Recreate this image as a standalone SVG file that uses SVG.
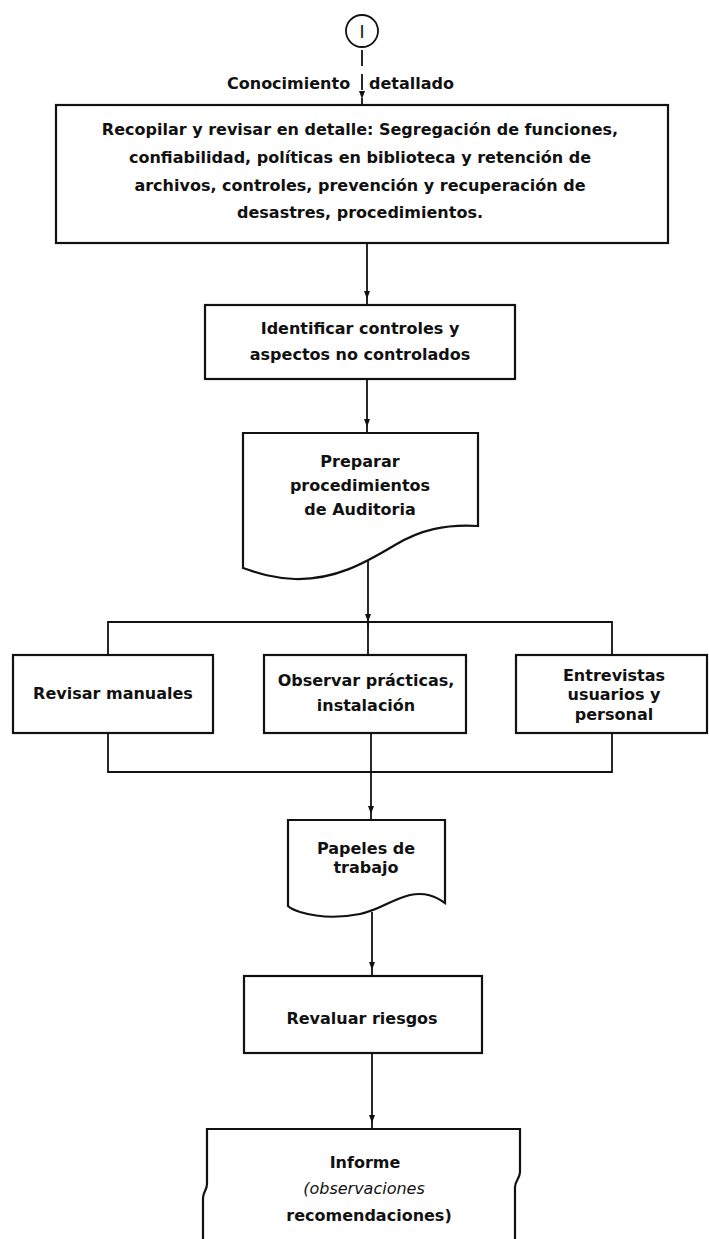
<svg xmlns="http://www.w3.org/2000/svg" width="709" height="1239" viewBox="0 0 709 1239">
<defs>
<marker id="arr" viewBox="0 0 14 6" refX="14" refY="3" markerWidth="14" markerHeight="6" markerUnits="userSpaceOnUse" orient="auto">
<path d="M0,0 L8,3 L0,6 z" fill="#111"/>
</marker>
</defs>
<style>
.box{fill:#fff;stroke:#111;stroke-width:2.2}
.ln{fill:none;stroke:#111;stroke-width:1.8}
.t{font-family:"DejaVu Sans","Liberation Sans",sans-serif;font-weight:bold;font-size:16px;fill:#111;text-anchor:middle}
.ti{font-style:italic;font-weight:normal}
</style>
<rect width="709" height="1239" fill="#fff"/>
<g id="connectors">
<line class="ln" x1="362" y1="50" x2="362" y2="105" stroke-dasharray="16 8" marker-end="url(#arr)"/>
<line class="ln" x1="367" y1="243" x2="367" y2="305" marker-end="url(#arr)"/>
<line class="ln" x1="367" y1="379" x2="367" y2="433" marker-end="url(#arr)"/>
<line class="ln" x1="368" y1="560" x2="368" y2="628" marker-end="url(#arr)"/>
<line class="ln" x1="368" y1="622" x2="368" y2="655"/>
<polyline class="ln" points="108,655 108,622 612,622 612,655"/>
<polyline class="ln" points="108,733 108,772 612,772 612,733"/>
<line class="ln" x1="371" y1="733" x2="371" y2="820" marker-end="url(#arr)"/>
<line class="ln" x1="372" y1="912" x2="372" y2="976" marker-end="url(#arr)"/>
<line class="ln" x1="372" y1="1053" x2="372" y2="1129" marker-end="url(#arr)"/>
</g>
<g id="start">
<circle cx="362" cy="31" r="16" fill="#fff" stroke="#111" stroke-width="1.8"/>
<text x="362" y="38" font-family="DejaVu Sans,sans-serif" font-size="17" text-anchor="middle" fill="#111">I</text>
<text class="t" y="89" style="text-anchor:start"><tspan x="227">Conocimiento</tspan><tspan x="369">detallado</tspan></text>
</g>
<g id="recopilar">
<rect class="box" x="56" y="105" width="612" height="138"/>
<text class="t" x="360" y="135">Recopilar y revisar en detalle: Segregación de funciones,</text>
<text class="t" x="360" y="163">confiabilidad, políticas en biblioteca y retención de</text>
<text class="t" x="360" y="191">archivos, controles, prevención y recuperación de</text>
<text class="t" x="360" y="218">desastres, procedimientos.</text>
</g>
<g id="identificar">
<rect class="box" x="205" y="305" width="310" height="74"/>
<text class="t" x="360" y="334">Identificar controles y</text>
<text class="t" x="360" y="360">aspectos no controlados</text>
</g>
<g id="preparar">
<path class="box" d="M243,433 H478 V526 C445,524 420,530 395,545 C365,563 335,580 295,579 C270,578 255,572 243,568 Z"/>
<text class="t" x="360" y="467">Preparar</text>
<text class="t" x="360" y="491">procedimientos</text>
<text class="t" x="360" y="515">de Auditoria</text>
</g>
<g id="revisar">
<rect class="box" x="13" y="655" width="200" height="78"/>
<text class="t" x="113" y="699">Revisar manuales</text>
</g>
<g id="observar">
<rect class="box" x="264" y="655" width="202" height="78"/>
<text class="t" x="366" y="686">Observar prácticas,</text>
<text class="t" x="366" y="711">instalación</text>
</g>
<g id="entrevistas">
<rect class="box" x="516" y="655" width="191" height="78"/>
<text class="t" x="614" y="681">Entrevistas</text>
<text class="t" x="614" y="700">usuarios y</text>
<text class="t" x="614" y="720">personal</text>
</g>
<g id="papeles">
<path class="box" d="M288,820 H445 V903 C435,896 425,892 410,895 C390,900 380,910 360,914 C340,918 320,918 300,912 C294,910 290,908 288,906 Z"/>
<text class="t" x="366" y="854">Papeles de</text>
<text class="t" x="366" y="873">trabajo</text>
</g>
<g id="revaluar">
<rect class="box" x="244" y="976" width="238" height="77"/>
<text class="t" x="362" y="1024">Revaluar riesgos</text>
</g>
<g id="informe">
<path class="box" d="M203,1241 V1198 C203,1192 207,1190 207,1184 V1129 H520 V1172 C520,1178 515,1181 515,1187 V1241"/>
<text class="t" x="365" y="1168">Informe</text>
<text class="t ti" x="364" y="1194">(observaciones</text>
<text class="t" x="369" y="1221">recomendaciones)</text>
</g>
</svg>
